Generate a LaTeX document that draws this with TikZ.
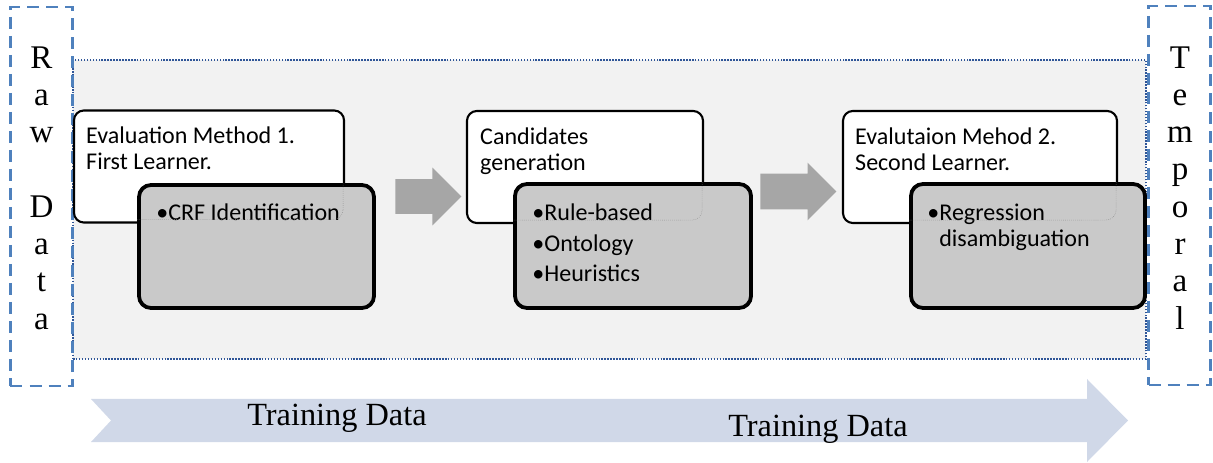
\documentclass[tikz,border=0pt]{standalone}
\usepackage{fontspec}
\setmainfont{Liberation Serif}
\newfontfamily\calibri{Carlito}
\usepackage{tikz}
\usetikzlibrary{shapes.arrows}
\definecolor{panel}{HTML}{F2F2F2}
\definecolor{dotline}{HTML}{2F5597}
\definecolor{dashline}{HTML}{4F81BD}
\definecolor{itemgray}{HTML}{C9C9C9}
\definecolor{arrowgray}{HTML}{A6A6A6}
\definecolor{band}{HTML}{D0D8E8}
\tikzset{
  panelbox/.style={draw=dotline, densely dotted, line width=1.1pt, fill=panel,
    minimum width=268.25mm, minimum height=74.75mm},
  sidebox/.style={draw=dashline, line width=1.7pt, dash pattern=on 3mm off 1.75mm,
    minimum width=15.5mm, minimum height=94.75mm},
  sidetext/.style={font=\fontsize{23.5}{26.5}\selectfont, align=center, inner sep=0pt, anchor=north},
  headbox/.style={rounded corners=7pt, draw=black, line width=1.5pt, fill=white, minimum height=28mm},
  itembox/.style={rounded corners=8.5pt, draw=black, line width=2.7pt, fill=itemgray, minimum height=31mm},
  boxtext/.style={font=\calibri\fontsize{17.1}{18.5}\selectfont, align=left, inner sep=0pt, anchor=north west},
  ghost/.style={draw=black!45, line width=0.4pt, densely dotted, rounded corners=7pt},
  steparrow/.style={single arrow, fill=arrowgray, draw=none, inner xsep=0pt, anchor=tail},
  bandtext/.style={font=\fontsize{23}{26}\selectfont, inner sep=0pt, anchor=base west}
}

\begin{document}
\begin{tikzpicture}[x=0.25mm,y=-0.25mm]
  \useasboundingbox (0,0) rectangle (1213,463);

  % background panel and the two side frames
  \node[panelbox] (panel) at (609.5,209.5) {};
  \node[sidebox] (raw)  at (41.5,196.5) {};
  \node[sidebox] (temp) at (1179.5,195.5) {};
  \node[sidetext] (rawtxt)  at (41.5,46.3) {R\\a\\w\\~\\D\\a\\t\\a};
  \node[sidetext] (temptxt) at (1180,46.3) {T\\e\\m\\p\\o\\r\\a\\l};

  % stages
  \node[headbox, minimum width=67.5mm] (h1) at (209,166.5) {};
  \node[headbox, minimum width=59mm]   (h2) at (585,167) {};
  \node[headbox, minimum width=68.5mm] (h3) at (980,167) {};
  \node[itembox, minimum width=58.75mm, minimum height=30.75mm] (i1) at (256.5,246.5) {};
  \node[itembox, minimum width=59mm]   (i2) at (633,246) {};
  \node[itembox, minimum width=58.5mm] (i3) at (1028,246) {};

  \node[boxtext] (h1txt) at ([shift={(13,16)}]h1.north west) {\strut Evaluation Method 1.\\First Learner.};
  \node[boxtext] (h2txt) at ([shift={(14,16)}]h2.north west) {\strut Candidates\\generation};
  \node[boxtext] (h3txt) at ([shift={(13,16)}]h3.north west) {\strut Evalutaion Mehod 2.\\Second Learner.};
  \node[boxtext] (i1txt) at ([shift={(19,19)}]i1.north west) {\strut •CRF Identification};
  \node[boxtext] (i2txt) at ([shift={(19,20)}]i2.north west) {\strut •Rule-based\\[3.2pt]•Ontology\\[3.2pt]•Heuristics};
  \node[boxtext] (i3txt) at ([shift={(18,20)}]i3.north west) {\strut •Regression\\\phantom{•}disambiguation};

  \begin{scope}
    \clip (i1.north west) rectangle (i1.south east);
    \draw[ghost] ([shift={(-2,-4)}]h1.south east) rectangle (h1.north west);
  \end{scope}
  \begin{scope}
    \clip (i2.north west) rectangle (i2.south east);
    \draw[ghost] ([shift={(-2,-4)}]h2.south east) rectangle (h2.north west);
  \end{scope}
  \begin{scope}
    \clip (i3.north west) rectangle (i3.south east);
    \draw[ghost] ([shift={(-2,-4)}]h3.south east) rectangle (h3.north west);
  \end{scope}

  \node[steparrow, minimum height=16.5mm, inner ysep=4.25mm,  single arrow head extend=2.9mm]  (a1) at (395,196.5) {};
  \node[steparrow, minimum height=19mm,   inner ysep=4.375mm, single arrow head extend=2.75mm] (a2) at (760,191.5) {};

  % training data band
  \fill[band] (91,399) -- (1087,399) -- (1087,379) -- (1128,420.5) -- (1087,462)
    -- (1087,442) -- (91,442) -- (111,420.5) -- cycle;
  \node[bandtext] (train1) at (247,425) {Training Data};
  \node[bandtext] (train2) at (728,437) {Training Data};
\end{tikzpicture}
\end{document}
